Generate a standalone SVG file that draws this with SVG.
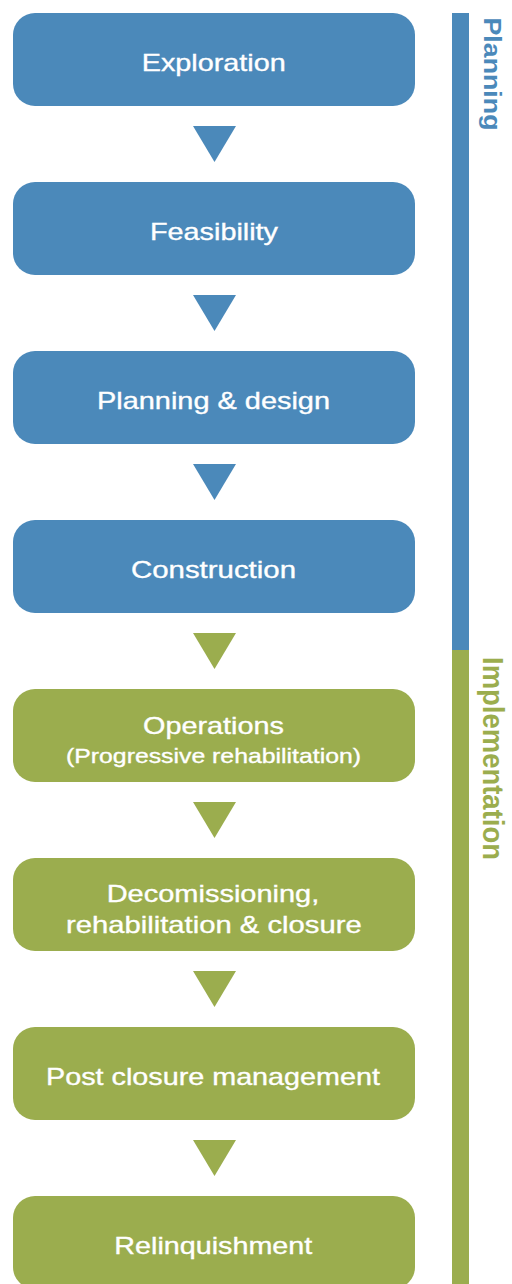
<svg xmlns="http://www.w3.org/2000/svg" width="512" height="1284" viewBox="0 0 512 1284">
<style>
.b{fill:#4b89ba}
.g{fill:#9bad4e}
.t{fill:#ffffff;stroke:#ffffff;stroke-width:0.35px;font-family:"Liberation Sans",Arial,sans-serif;font-size:24px}
.s{font-size:21px}
.v{font-family:"Liberation Sans",Arial,sans-serif;font-weight:bold}
</style>
<rect width="512" height="1284" fill="#ffffff"/>
<g id="phase-bar">
<rect class="b" x="452" y="13" width="17" height="637"/>
<rect class="g" x="452" y="650" width="17" height="634"/>
<text class="v" fill="#4b89ba" font-size="23" transform="translate(483.5,17.5) rotate(90)" textLength="113" lengthAdjust="spacingAndGlyphs">Planning</text>
<text class="v" fill="#9bad4e" font-size="29" transform="translate(483,657) rotate(90)" textLength="203" lengthAdjust="spacingAndGlyphs">Implementation</text>
</g>
<g id="connectors">
<polygon class="b" points="193,126 236,126 214.5,162"/>
<polygon class="b" points="193,295 236,295 214.5,331"/>
<polygon class="b" points="193,464 236,464 214.5,500"/>
<polygon class="g" points="193,633 236,633 214.5,669"/>
<polygon class="g" points="193,802 236,802 214.5,838"/>
<polygon class="g" points="193,971 236,971 214.5,1007"/>
<polygon class="g" points="193,1140 236,1140 214.5,1176"/>
</g>
<g id="exploration">
<rect class="b" x="13" y="13" width="402" height="93" rx="22"/>
<text class="t" x="141.7" y="70.5" textLength="144" lengthAdjust="spacingAndGlyphs">Exploration</text>
</g>
<g id="feasibility">
<rect class="b" x="13" y="182" width="402" height="93" rx="22"/>
<text class="t" x="150" y="239.5" textLength="128" lengthAdjust="spacingAndGlyphs">Feasibility</text>
</g>
<g id="planning-design">
<rect class="b" x="13" y="351" width="402" height="93" rx="22"/>
<text class="t" x="97" y="408.5" textLength="233" lengthAdjust="spacingAndGlyphs">Planning &amp; design</text>
</g>
<g id="construction">
<rect class="b" x="13" y="520" width="402" height="93" rx="22"/>
<text class="t" x="131" y="577.5" textLength="165" lengthAdjust="spacingAndGlyphs">Construction</text>
</g>
<g id="operations">
<rect class="g" x="13" y="689" width="402" height="93" rx="22"/>
<text class="t" x="143" y="733.5" textLength="141" lengthAdjust="spacingAndGlyphs">Operations</text>
<text class="t s" x="66" y="763" textLength="295" lengthAdjust="spacingAndGlyphs">(Progressive rehabilitation)</text>
</g>
<g id="decommissioning">
<rect class="g" x="13" y="858" width="402" height="93" rx="22"/>
<text class="t" x="106.7" y="901.5" textLength="212.6" lengthAdjust="spacingAndGlyphs">Decomissioning,</text>
<text class="t" x="66" y="933" textLength="295.7" lengthAdjust="spacingAndGlyphs">rehabilitation &amp; closure</text>
</g>
<g id="post-closure">
<rect class="g" x="13" y="1027" width="402" height="93" rx="22"/>
<text class="t" x="46" y="1085" textLength="334" lengthAdjust="spacingAndGlyphs">Post closure management</text>
</g>
<g id="relinquishment">
<rect class="g" x="13" y="1196" width="402" height="93" rx="22"/>
<text class="t" x="114.3" y="1253.5" textLength="198" lengthAdjust="spacingAndGlyphs">Relinquishment</text>
</g>
</svg>
